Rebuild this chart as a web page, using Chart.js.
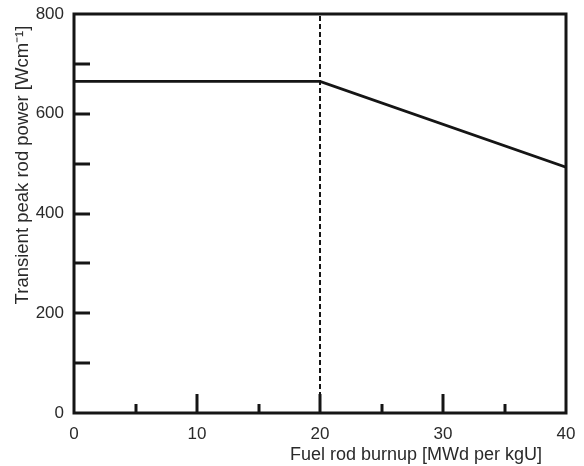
<!DOCTYPE html>
<html>
<head>
<meta charset="utf-8">
<script src="https://cdn.jsdelivr.net/npm/chart.js@4/dist/chart.umd.min.js"></script>
<style>
html,body{margin:0;padding:0;background:#fff;}
#wrap{width:584px;height:466px;position:relative;}
</style>
</head>
<body>
<div id="wrap"><canvas id="c" width="584" height="466"></canvas></div>
<script>
// Data
const burnup = [0, 20, 40];
const peakPower = [665, 665, 493];
const limitX = [20, 20];
const limitY = [0, 800];
const xLabelTicks = [0, 10, 20, 30, 40];
const xMajorTicks = [10, 20, 30];
const xMinorTicks = [5, 15, 25, 35];
const yMinorTicks = [100, 200, 300, 400, 500, 600, 700];
const xTitle = 'Fuel rod burnup [MWd per kgU]';
const yTitle = 'Transient peak rod power [Wcm\u207B\u00B9]';

const INK = '#151515';
const FONT = '"Liberation Sans", Arial, sans-serif';

const framePlugin = {
  id: 'frame',
  afterDatasetsDraw(chart) {
    const {ctx, chartArea: a, scales: {x, y}} = chart;
    ctx.save();
    ctx.strokeStyle = INK;
    ctx.lineCap = 'butt';
    ctx.lineWidth = 3;
    yMinorTicks.forEach(v => {
      const py = Math.round(y.getPixelForValue(v));
      ctx.beginPath(); ctx.moveTo(a.left, py); ctx.lineTo(a.left + 16, py); ctx.stroke();
    });
    xMajorTicks.forEach(v => {
      const px = Math.round(x.getPixelForValue(v));
      ctx.beginPath(); ctx.moveTo(px, a.bottom); ctx.lineTo(px, a.bottom - 19); ctx.stroke();
    });
    xMinorTicks.forEach(v => {
      const px = Math.round(x.getPixelForValue(v));
      ctx.beginPath(); ctx.moveTo(px, a.bottom); ctx.lineTo(px, a.bottom - 9); ctx.stroke();
    });
    ctx.lineWidth = 3;
    ctx.strokeRect(a.left, a.top, a.right - a.left, a.bottom - a.top);
    ctx.fillStyle = '#2a2a2a';
    ctx.font = '18px ' + FONT;
    ctx.textAlign = 'center';
    ctx.textBaseline = 'middle';
    ctx.fillText(xTitle, 416, 455);
    ctx.font = '18.5px ' + FONT;
    ctx.translate(23, 165);
    ctx.rotate(-Math.PI / 2);
    ctx.fillText(yTitle, 0, 0);
    ctx.restore();
  }
};

new Chart(document.getElementById('c'), {
  type: 'scatter',
  data: {
    datasets: [
      {
        data: burnup.map((b, i) => ({x: b, y: peakPower[i]})),
        showLine: true,
        borderColor: INK,
        borderWidth: 2.8,
        pointRadius: 0,
        fill: false
      },
      {
        data: limitX.map((b, i) => ({x: b, y: limitY[i]})),
        showLine: true,
        borderColor: INK,
        borderWidth: 2,
        borderDash: [5, 3],
        pointRadius: 0,
        fill: false
      }
    ]
  },
  plugins: [framePlugin],
  options: {
    responsive: false,
    animation: false,
    devicePixelRatio: 1,
    layout: {padding: {left: 0, right: 18, top: 14, bottom: 0}},
    plugins: {legend: {display: false}, tooltip: {enabled: false}},
    scales: {
      x: {
        type: 'linear', min: 0, max: 40,
        grid: {display: false, drawTicks: false},
        border: {display: false},
        afterFit(s) { s.height = 53; s.paddingLeft = 0; s.paddingRight = 0; },
        afterBuildTicks(s) { s.ticks = xLabelTicks.map(v => ({value: v})); },
        ticks: {color: '#2a2a2a', font: {size: 17, family: FONT}, padding: 11, maxRotation: 0, autoSkip: false}
      },
      y: {
        type: 'linear', min: 0, max: 800,
        grid: {display: false, drawTicks: false},
        border: {display: false},
        afterFit(s) { s.width = 74; s.paddingTop = 0; s.paddingBottom = 0; },
        ticks: {stepSize: 200, color: '#2a2a2a', font: {size: 17, family: FONT}, padding: 10}
      }
    }
  }
});
</script>
</body>
</html>
